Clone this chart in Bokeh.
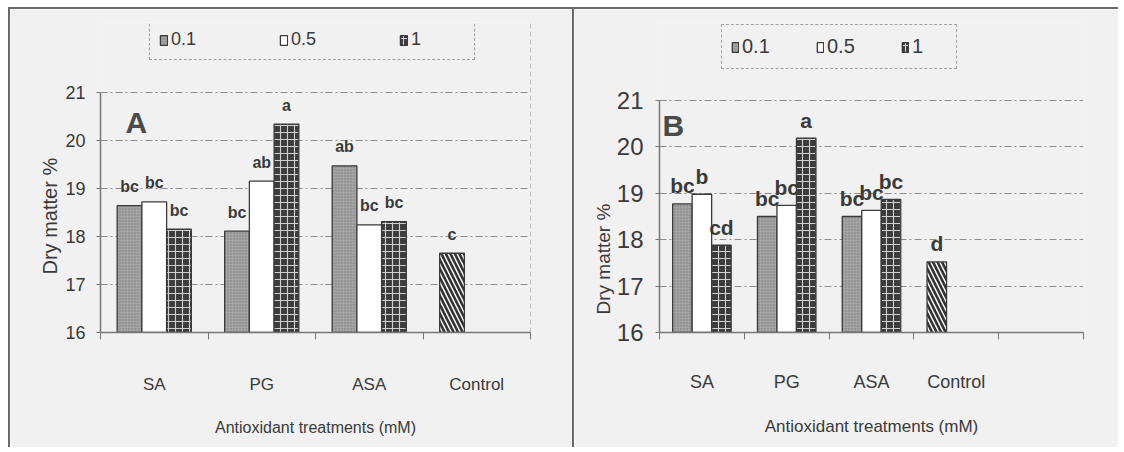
from bokeh.plotting import figure
from bokeh.models import Range1d, FixedTicker, Legend, LegendItem, Label, Title
from bokeh.layouts import row
from bokeh.embed import file_html
from bokeh.resources import INLINE
from bokeh.core.properties import value

# ---------------- data ----------------
categories_A = ["SA", "PG", "ASA", "Control"]
categories_B = ["SA", "PG", "ASA", "Control", ""]
series_names = ["0.1", "0.5", "1"]

A_01 = [18.64, 18.11, 19.47]
A_05 = [18.72, 19.15, 18.24]
A_1 = [18.15, 20.34, 18.31]
A_control = [17.65]
A_lbl_01 = ["bc", "bc", "ab"]
A_lbl_05 = ["bc", "ab", "bc"]
A_lbl_1 = ["bc", "a", "bc"]
A_lbl_control = ["c"]

B_01 = [18.77, 18.50, 18.50]
B_05 = [18.98, 18.74, 18.63]
B_1 = [17.88, 20.19, 18.87]
B_control = [17.52]
B_lbl_01 = ["bc", "bc", "bc"]
B_lbl_05 = ["b", "bc", "bc"]
B_lbl_1 = ["cd", "a", "bc"]
B_lbl_control = ["d"]

y_ticks = [16, 17, 18, 19, 20, 21]
y_title = "Dry matter %"
x_title = "Antioxidant treatments (mM)"

FONT = "Liberation Sans"
TXT = "#3a3a3a"
BG = "#f1f1f1"
EDGE = "#3a3a3a"
FRAME = "2px solid #6a6a6a"

STYLE = {
    "0.1": dict(fill_color="#a4a4a4", hatch_pattern="dot", hatch_color="#7c7c7c", hatch_scale=3, hatch_weight=1),
    "0.5": dict(fill_color="#ffffff"),
    "1": dict(fill_color="#3c3c3c", hatch_pattern="+", hatch_color="#d0d0d0", hatch_scale=7, hatch_weight=1.1),
    "ctrl": dict(fill_color="#ffffff", hatch_pattern="\\", hatch_color="#333333", hatch_scale=9, hatch_weight=2.6),
}


def make_panel(cfg, cats, s01, s05, s1, ctrl, l01, l05, l1, lctrl, letter):
    n = len(cats)
    W, H = cfg["W"], cfg["H"]
    left, right, y16, y21, ftop = cfg["left"], cfg["right"], cfg["y16"], cfg["y21"], cfg["ftop"]
    unit = (y16 - y21) / 5.0
    y_end = 21 + (y21 - ftop) / unit
    L = left - cfg["page_x"]
    T = ftop - cfg["page_y"]
    FW = right - left
    FH = y16 - ftop
    p = figure(width=W, height=H, x_range=Range1d(0, n), y_range=Range1d(16, y_end),
               output_backend="svg", toolbar_location=None,
               min_border_left=L, min_border_right=W - L - FW,
               min_border_top=T, min_border_bottom=H - T - FH,
               styles=cfg["styles"])
    p.background_fill_color = BG
    p.border_fill_color = BG
    p.outline_line_color = None

    def dx(px):
        return (px - left) / FW * n

    def dy(py):
        return 16 + (y16 - py) / unit

    w = 0.23
    idx = list(range(len(s01)))
    renderers = []
    for vals, off, key in ((s01, -w, "0.1"), (s05, 0.0, "0.5"), (s1, w, "1")):
        xs = [i + 0.5 + off for i in idx]
        r = p.vbar(x=xs, top=vals, bottom=16, width=w, line_color=EDGE, line_width=1.3, **STYLE[key])
        renderers.append(r)
    ci = cats.index("Control")
    xc = [ci + 0.5 - w]
    p.vbar(x=xc, top=ctrl, bottom=16, width=w, line_color=EDGE, line_width=1.3, **STYLE["ctrl"])

    # significance letters
    for vals, off, lab in ((s01, -w, l01), (s05, 0.0, l05), (s1, w, l1)):
        xs = [i + 0.5 + off for i in idx]
        p.text(x=xs, y=vals, text=lab, text_align="center", text_baseline="alphabetic",
               y_offset=cfg["lbl_off"], text_font=value(FONT), text_font_size=cfg["lbl_fs"],
               text_font_style="bold", text_color=TXT)
    p.text(x=xc, y=ctrl, text=lctrl, text_align="center", text_baseline="alphabetic",
           y_offset=cfg["lbl_off"], text_font=value(FONT), text_font_size=cfg["lbl_fs"],
           text_font_style="bold", text_color=TXT)

    # x axis: labels at category centres, ticks at category boundaries
    xa = p.xaxis[0]
    xa.ticker = FixedTicker(ticks=[i + 0.5 for i in range(4)], minor_ticks=list(range(n + 1)))
    xa.major_label_overrides = {i + 0.5: cats[i] for i in range(4)}
    xa.major_tick_line_color = None
    xa.major_tick_out = 0
    xa.major_tick_in = 0
    xa.minor_tick_out = 7
    xa.minor_tick_in = 0
    xa.minor_tick_line_color = "#777777"
    xa.axis_line_color = "#777777"
    xa.axis_line_width = 1.5
    xa.major_label_standoff = cfg["xstand"]
    xa.major_label_text_font = FONT
    xa.major_label_text_font_size = cfg["cat_fs"]
    xa.major_label_text_color = TXT
    xa.axis_label = x_title
    xa.axis_label_standoff = cfg["xlab_stand"]
    xa.axis_label_text_font = FONT
    xa.axis_label_text_font_size = cfg["xtitle_fs"]
    xa.axis_label_text_font_style = "normal"
    xa.axis_label_text_color = TXT

    ya = p.yaxis[0]
    ya.ticker = FixedTicker(ticks=y_ticks)
    ya.bounds = (16, 21)
    ya.minor_tick_line_color = None
    ya.major_tick_out = 4
    ya.major_tick_in = 0
    ya.major_tick_line_color = "#777777"
    ya.axis_line_color = "#777777"
    ya.axis_line_width = 1.5
    ya.major_label_standoff = cfg["ystand"]
    ya.major_label_text_font = FONT
    ya.major_label_text_font_size = cfg["tick_fs"]
    ya.major_label_text_color = TXT

    # y title as a side title, anchored at the bottom of the frame and raised by an offset
    p.add_layout(Title(text=y_title, align="left", offset=cfg["yt_offset"], standoff=cfg["yt_standoff"],
                       text_font=FONT, text_font_size=cfg["ytitle_fs"], text_font_style="normal",
                       text_color=TXT), "left")

    p.ygrid.ticker = FixedTicker(ticks=[17, 18, 19, 20, 21])
    p.ygrid.grid_line_color = "#8c8c8c"
    p.ygrid.grid_line_dash = "7 3 2 3"
    p.ygrid.grid_line_width = 1
    if cfg["box_right"]:
        p.xgrid.ticker = FixedTicker(ticks=[n - 0.004])
        p.xgrid.bounds = (16, 21)
        p.xgrid.grid_line_color = "#8c8c8c"
        p.xgrid.grid_line_dash = "5 3"
    else:
        p.xgrid.grid_line_color = None

    # legend with dashed box above the plot area
    bx0, by0, bx1, by1 = cfg["leg_box"]
    legend = Legend(items=[LegendItem(label=s, renderers=[r]) for s, r in zip(series_names, renderers)],
                    orientation="horizontal",
                    location=(bx0 - left, y16 - by1),
                    padding=9, margin=0, spacing=cfg["leg_spacing"],
                    glyph_width=cfg["leg_gw"], glyph_height=12, label_standoff=3,
                    label_width=cfg["leg_lw"], label_height=cfg["leg_lh"],
                    label_text_font=FONT, label_text_font_size=cfg["leg_fs"], label_text_color=TXT,
                    border_line_color="#555555", border_line_dash="5 2", border_line_width=1.2,
                    background_fill_alpha=0)
    p.add_layout(legend)

    p.add_layout(Label(x=dx(cfg["letter_xy"][0]), y=dy(cfg["letter_xy"][1]), text=letter,
                       text_align="left", text_baseline="alphabetic", text_font=FONT,
                       text_font_style="bold", text_font_size="30px", text_color="#4a4a4a"))
    return p


# page coordinates: figure content origin (after CSS margin + border), plot area, frame top
cfg_A = dict(W=566, H=440, page_x=10, page_y=9, left=100, right=530, y16=337, y21=93, ftop=22,
             box_right=True,
             styles={"margin-left": "8px", "margin-top": "7px", "border-left": FRAME,
                     "border-top": FRAME, "border-right": FRAME},
             lbl_off=-19, lbl_fs="16px", xstand=35, cat_fs="17px", ystand=11, tick_fs="18px",
             xlab_stand=22, xtitle_fs="16px", yt_offset=58, yt_standoff=4, ytitle_fs="20px",
             leg_box=(149, 26, 473, 65), leg_spacing=54, leg_gw=9, leg_lw=54,
             leg_lh=21, leg_fs="18px",
             letter_xy=(125, 124))

cfg_B = dict(W=544, H=440, page_x=578, page_y=9, left=663, right=1087, y16=332, y21=100, ftop=22,
             box_right=False,
             styles={"margin-top": "7px", "border-top": FRAME},
             lbl_off=-18, lbl_fs="21px", xstand=32, cat_fs="18px", ystand=12, tick_fs="24px",
             xlab_stand=22, xtitle_fs="17px", yt_offset=18, yt_standoff=0, ytitle_fs="19px",
             leg_box=(725, 26, 959, 69), leg_spacing=39, leg_gw=8, leg_lw=35,
             leg_lh=25, leg_fs="20px",
             letter_xy=(666, 125))

pA = make_panel(cfg_A, categories_A, A_01, A_05, A_1, A_control,
                A_lbl_01, A_lbl_05, A_lbl_1, A_lbl_control, "A")
pB = make_panel(cfg_B, categories_B, B_01, B_05, B_1, B_control,
                B_lbl_01, B_lbl_05, B_lbl_1, B_lbl_control, "B")

layout = row(pA, pB)
open("out.html", "w").write(file_html(layout, INLINE))
